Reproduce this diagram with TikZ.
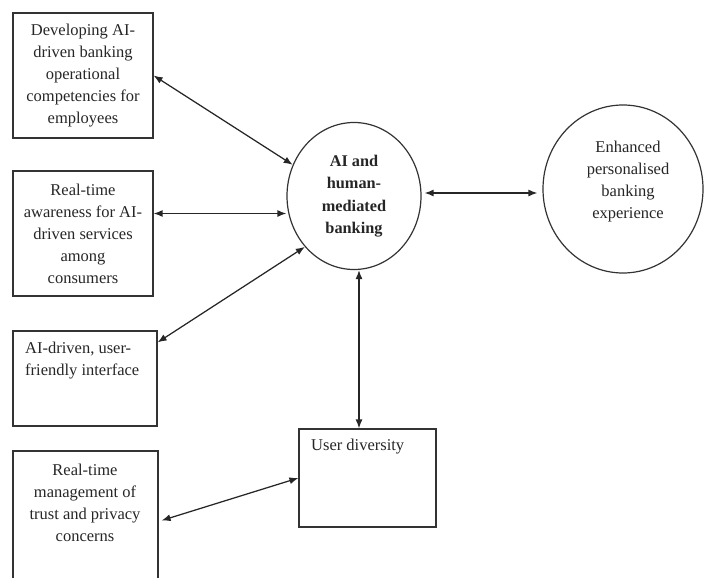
\documentclass[tikz,border=0pt]{standalone}
\usepackage{fontspec}
\setmainfont{Liberation Serif}
\usetikzlibrary{arrows.meta,shapes.geometric}
\begin{document}
\begin{tikzpicture}[x=1pt,y=-1pt,
  lw/.style={line width=1.2pt, draw=black!80},
  box/.style={lw, rectangle, inner sep=0pt},
  circ/.style={lw, ellipse, inner sep=0pt},
  txt/.style={font=\fontsize{16.5}{22}\selectfont, text=black!85, align=center, inner sep=0pt},
  arr/.style={line width=1.25pt, draw=black!85, {Latex[length=9pt,width=7pt]}-{Latex[length=9pt,width=7pt]}}]
\useasboundingbox (0,0) rectangle (704,578);
\clip (0,0) rectangle (704,578);

\node[box, txt, minimum width=140pt, minimum height=125pt] (b1) at (83,75.5)
  {Developing AI-\\driven banking\\operational\\competencies for\\employees};
\node[box, txt, minimum width=140pt, minimum height=125pt] (b2) at (83,233.5)
  {Real-time\\awareness for AI-\\driven services\\among\\consumers};
\node[box, minimum width=144pt, minimum height=95pt] (b3) at (85,378.5) {};
\node[txt, align=left, anchor=north west] (t3) at (25,342) {AI-driven, user-\\friendly interface};
\node[box, minimum width=145pt, minimum height=139pt] (b4) at (85.5,520.5) {};
\node[txt] (t4) at (85,503) {Real-time\\management of\\trust and privacy\\concerns};
\node[box, minimum width=137pt, minimum height=98pt] (ud) at (367.5,478) {};
\node[txt, anchor=north west] (t5) at (311,439) {User diversity};
\node[circ, txt, font=\fontsize{16.3}{22.5}\selectfont\bfseries, minimum width=134pt, minimum height=147pt] (c1) at (354,196)
  {AI and\\human-\\mediated\\banking};
\node[circ, minimum width=160pt, minimum height=168pt] (c2) at (623,189) {};
\node[txt] (t6) at (628,182) {Enhanced\\personalised\\banking\\experience};

\draw[arr] (b1.east) -- (c1.153);
\draw[arr] ([yshift=20pt]b2.east) -- ([yshift=20pt]b2.east -| c1.west);
\draw[arr] ([yshift=-12pt]b3.north east) -- (c1.226);
\draw[arr] ([xshift=3pt]b4.east) -- (ud.west);
\draw[arr] ([xshift=-8.5pt]ud.north) -- ([xshift=-8.5pt]ud.north |- c1.south);
\draw[arr, shorten <=3pt, shorten >=5pt] ([yshift=3pt]c1.east) -- ([yshift=3pt]c1.east -| c2.west);
\end{tikzpicture}
\end{document}
